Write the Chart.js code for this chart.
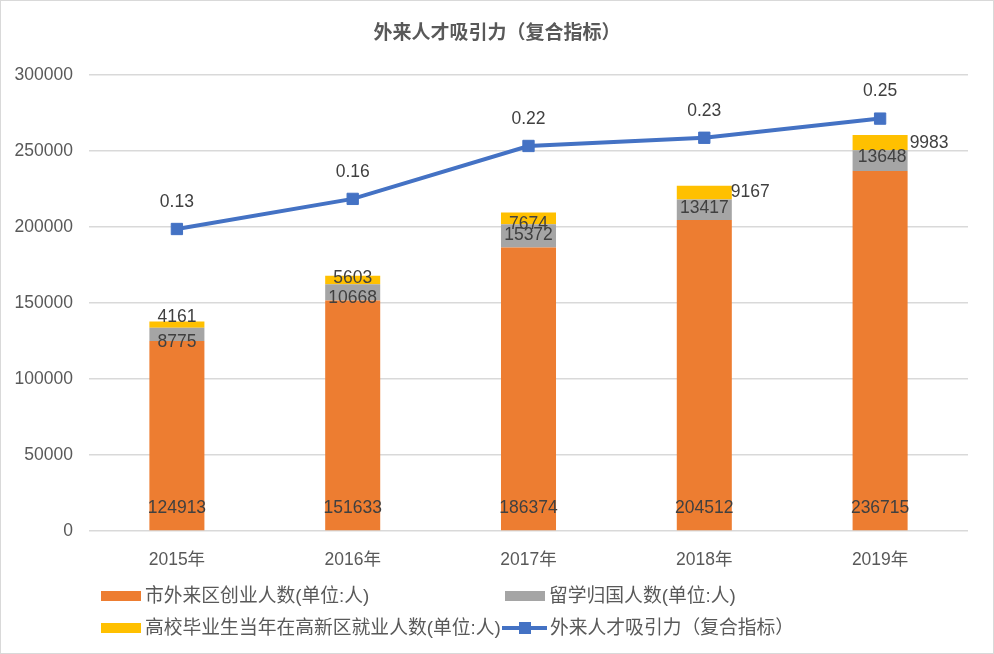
<!DOCTYPE html>
<html>
<head>
<meta charset="utf-8">
<script src="https://cdn.jsdelivr.net/npm/chart.js@4.4.1/dist/chart.umd.min.js"></script>
<style>
  html, body { margin: 0; padding: 0; background: #fff; }
  #wrap { position: relative; width: 994px; height: 654px; }
  #frame { position: absolute; left: 0; top: 0; width: 994px; height: 654px; box-sizing: border-box; border: 1px solid #d9d9d9; pointer-events: none; }
  canvas { position: absolute; left: 0; top: 0; }
  .lg { position: absolute; font-family: 'Liberation Sans', 'Noto Sans CJK SC', sans-serif; font-size: 18.8px; color: #595959; line-height: 22px; white-space: nowrap; }
  .sw { position: absolute; height: 10px; width: 40px; }
</style>
</head>
<body>
<div id="wrap">
  <canvas id="chart" width="994" height="654"></canvas>
  <div id="legend"></div>
  <div id="frame"></div>
</div>
<script>
const years = ["2015年", "2016年", "2017年", "2018年", "2019年"];
const startups = [124913, 151633, 186374, 204512, 236715];      // 市外来区创业人数
const returnees = [8775, 10668, 15372, 13417, 13648];           // 留学归国人数
const graduates = [4161, 5603, 7674, 9167, 9983];               // 高校毕业生当年在高新区就业人数
const attraction = [0.131, 0.164, 0.222, 0.231, 0.252];         // 外来人才吸引力（复合指标）

const names = ["市外来区创业人数(单位:人)", "留学归国人数(单位:人)", "高校毕业生当年在高新区就业人数(单位:人)", "外来人才吸引力（复合指标）"];
const colors = ["#ED7D31", "#A5A5A5", "#FFC000", "#4472C4"];

// small nudges so overlapping labels sit like in the original
const grayShift = [[0, 8], [0, 6], [0, -1], [0, -2], [2, -3]];
const yellowShift = [[0, -7], [0, -2], [0, 6], [46, 0], [49, 0]];

const FONT = "'Liberation Sans', 'Noto Sans CJK SC', sans-serif";

const labelPlugin = {
  id: "labels",
  afterDatasetsDraw(chart) {
    const ctx = chart.ctx;
    ctx.save();
    ctx.font = "17.5px " + FONT;
    ctx.fillStyle = "#404040";
    ctx.textAlign = "center";
    ctx.textBaseline = "middle";
    chart.data.datasets.forEach((ds, i) => {
      const meta = chart.getDatasetMeta(i);
      meta.data.forEach((el, j) => {
        const p = el.getProps(["x", "y", "base"], true);
        const v = ds.data[j];
        if (ds.type === "line") {
          ctx.fillText(v.toFixed(2), p.x, p.y - 27);
        } else if (i === 1) {
          ctx.fillText(v, p.x, p.base - 22);
        } else {
          const sh = i === 2 ? grayShift[j] : yellowShift[j];
          ctx.fillText(v, p.x + sh[0], (p.y + p.base) / 2 + sh[1]);
        }
      });
    });
    ctx.restore();
  },
};

const chart = new Chart(document.getElementById("chart"), {
  type: "bar",
  data: {
    labels: years,
    datasets: [
      {
        type: "line", label: names[3], data: attraction, yAxisID: "y2", order: 0,
        borderColor: colors[3], backgroundColor: colors[3], borderWidth: 4,
        pointStyle: "rect", pointRadius: 8, pointBorderWidth: 1, tension: 0,
      },
      { label: names[0], data: startups, backgroundColor: colors[0], order: 1, stack: "s" },
      { label: names[1], data: returnees, backgroundColor: colors[1], order: 1, stack: "s" },
      { label: names[2], data: graduates, backgroundColor: colors[2], order: 1, stack: "s" },
    ],
  },
  options: {
    responsive: false,
    animation: false,
    layout: { padding: 0 },
    datasets: { bar: { categoryPercentage: 1, barPercentage: 0.313 } },
    plugins: {
      legend: { display: false },
      tooltip: { enabled: false },
      title: {
        display: true,
        text: "外来人才吸引力（复合指标）",
        color: "#595959",
        font: { family: FONT, size: 19, weight: "bold" },
        padding: { top: 22, bottom: 30 },
      },
    },
    scales: {
      x: {
        stacked: true,
        grid: { display: false },
        border: { display: false },
        ticks: { color: "#595959", font: { family: FONT, size: 17.5 }, padding: 11 },
        afterFit: (s) => { s.height = 123; },
      },
      y: {
        stacked: true,
        min: 0, max: 300000,
        ticks: {
          stepSize: 50000, color: "#595959", font: { family: FONT, size: 17.5 }, padding: 16,
          callback: (v) => String(v),
        },
        grid: { color: "#d9d9d9", lineWidth: 1.5, drawTicks: false },
        border: { display: false },
        afterFit: (s) => { s.width = 89; },
      },
      // secondary axis for the index line, kept invisible
      y2: {
        position: "right",
        min: -0.2, max: 0.3,
        ticks: { display: false },
        grid: { display: false },
        border: { display: false },
        afterFit: (s) => { s.width = 26; },
      },
    },
  },
  plugins: [labelPlugin],
});

// legend laid out in two columns like the original
const legendItems = [
  { text: names[0], color: colors[0], x: 101, y: 596 },
  { text: names[1], color: colors[1], x: 505, y: 596 },
  { text: names[2], color: colors[2], x: 101, y: 628 },
  { text: names[3], color: colors[3], x: 502, y: 628, line: true },
];
const legendBox = document.getElementById("legend");
legendItems.forEach((it) => {
  const sw = document.createElement("div");
  sw.className = "sw";
  sw.style.left = it.x + "px";
  if (it.line) {
    sw.style.top = (it.y - 2) + "px";
    sw.style.height = "4px";
    sw.style.width = "45px";
    sw.style.background = it.color;
    const mk = document.createElement("div");
    mk.style.cssText = "position:absolute;left:17px;top:-4px;width:12px;height:12px;background:" + it.color;
    sw.appendChild(mk);
  } else {
    sw.style.top = (it.y - 5) + "px";
    sw.style.background = it.color;
  }
  legendBox.appendChild(sw);
  const t = document.createElement("div");
  t.className = "lg";
  t.textContent = it.text;
  t.style.left = (it.x + (it.line ? 48 : 44)) + "px";
  t.style.top = (it.y - 11) + "px";
  legendBox.appendChild(t);
});
</script>
</body>
</html>
